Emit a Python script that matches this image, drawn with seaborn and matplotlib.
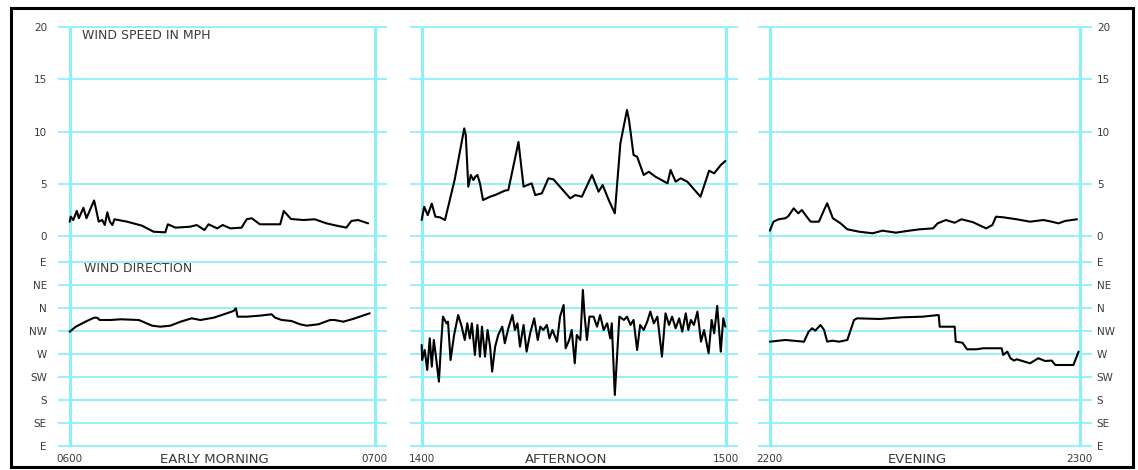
import pandas as pd
import matplotlib.pyplot as plt
import seaborn as sns
from matplotlib.patches import Rectangle

# ---- data (minutes past the hour, mph / compass degrees) ----
morning_speed_min = [0, 0.2, 0.7, 1.4, 1.8, 2.7, 3.3, 4.0, 4.8, 5.3, 5.7, 6.4, 6.9, 7.4, 7.9, 8.4, 8.8,
                     11.3, 14.2, 16.5, 18.8, 19.3, 20.8, 23.7, 25.0, 26.5, 27.3, 29.0, 30.1, 31.6, 33.8,
                     34.8, 35.8, 37.4, 41.4, 42.1, 43.5, 45.9, 48.2, 50.5, 52.5, 54.4, 55.4, 56.7, 58.7]
morning_speed = [1.37, 1.85, 1.53, 2.4, 1.7, 2.7, 1.7, 2.5, 3.4, 2.3, 1.37, 1.53, 1.05, 2.27, 1.37, 1.05, 1.6,
                 1.37, 0.99, 0.41, 0.35, 1.12, 0.8, 0.89, 1.05, 0.57, 1.12, 0.73, 1.05, 0.73, 0.8,
                 1.6, 1.7, 1.12, 1.12, 2.4, 1.63, 1.53, 1.6, 1.21, 0.99, 0.8, 1.44, 1.53, 1.21]

afternoon_speed_min = [0, 0.5, 1.2, 2.0, 2.7, 3.6, 4.6, 6.5, 8.4, 8.7, 9.2, 9.7, 10.2, 10.6, 11.0, 11.5, 12.1,
                       13.5, 14.5, 16.4, 17.1, 19.1, 20.1, 21.7, 22.4, 23.7, 25.0, 26.0, 29.3, 30.3, 31.6,
                       33.6, 34.9, 35.7, 36.9, 38.1, 39.2, 40.5, 40.9, 41.8, 42.5, 43.8, 44.8, 46.1, 48.5,
                       49.1, 50.1, 51.1, 52.4, 55.0, 56.7, 57.7, 59.0, 59.9]
afternoon_speed = [1.53, 2.8, 2.0, 3.1, 1.85, 1.79, 1.53, 5.36, 10.3, 9.67, 4.72, 5.84, 5.36, 5.68, 5.84, 5.04, 3.44,
                   3.76, 3.92, 4.34, 4.4, 9.0, 4.72, 5.04, 3.92, 4.08, 5.52, 5.42, 3.6, 3.92, 3.76,
                   5.84, 4.24, 4.88, 3.44, 2.17, 8.87, 12.06, 11.1, 7.75, 7.59, 5.84, 6.15, 5.68, 5.04,
                   6.32, 5.2, 5.52, 5.2, 3.76, 6.25, 6.0, 6.79, 7.18]

evening_speed_min = [0, 0.7, 1.7, 3.0, 3.6, 4.6, 5.5, 6.2, 6.9, 7.9, 9.5, 10.5, 11.1, 12.2, 13.7, 15.0, 17.3,
                     19.9, 21.8, 24.4, 27.0, 29.0, 31.6, 32.5, 34.1, 35.8, 37.1, 39.3, 41.9, 43.1, 43.8,
                     45.2, 47.8, 50.4, 53.0, 54.6, 55.9, 57.2, 59.5]
evening_speed = [0.51, 1.37, 1.6, 1.7, 1.91, 2.65, 2.17, 2.49, 2.0, 1.37, 1.37, 2.49, 3.13, 1.7, 1.21, 0.64, 0.41,
                 0.26, 0.51, 0.32, 0.51, 0.64, 0.73, 1.21, 1.53, 1.27, 1.6, 1.33, 0.73, 1.05, 1.85,
                 1.79, 1.6, 1.37, 1.53, 1.37, 1.21, 1.44, 1.6]

morning_dir_min = [0, 1.2, 3.1, 4.8, 5.4, 5.9, 8.0, 10.0, 13.6, 16.2, 17.8, 19.8, 21.8, 24.0, 25.7, 28.3,
                   30.9, 32.2, 32.7, 33.0, 34.8, 37.4, 39.7, 40.4, 41.7, 43.6, 45.3, 46.6, 48.9, 51.2,
                   52.1, 53.8, 55.7, 59.0]
morning_dir = [313.6, 323.4, 333.2, 341.0, 341.0, 336.5, 336.5, 337.9, 336.5, 325.4, 323.4, 325.4, 333.2, 339.8,
               336.5, 341.0, 349.6, 354.1, 359.4, 343.0, 343.0, 345.0, 347.7, 341.0, 336.5, 334.6, 328.1,
               325.4, 328.1, 336.5, 336.5, 333.2, 338.5, 349.6]

afternoon_dir_min = [0, 0.1, 0.6, 1.1, 1.6, 2.0, 2.4, 2.9, 3.4, 3.8, 4.2, 4.9, 5.2, 5.7, 6.4, 7.2, 7.9, 8.5,
                     9.0, 9.5, 9.9, 10.5, 11.0, 11.5, 11.9, 12.5, 13.0, 13.5, 13.9, 14.5, 15.1, 15.9, 16.4,
                     17.1, 17.9, 18.4, 18.9, 19.4, 20.1, 20.7, 21.4, 22.2, 22.9, 23.4, 24.0, 24.7, 25.2,
                     25.8, 26.7, 27.3, 28.0, 28.4, 29.1, 29.6, 30.2, 30.6, 31.3, 31.8, 32.1, 32.6, 33.1,
                     33.9, 34.6, 35.2, 35.9, 36.6, 37.2, 37.5, 38.1, 38.5, 39.0, 39.9, 40.5, 41.2, 41.8,
                     42.5, 43.1, 43.8, 44.5, 45.1, 45.8, 46.5, 47.4, 48.1, 48.8, 49.4, 50.1, 50.8, 51.4,
                     52.1, 52.6, 53.1, 53.7, 54.4, 55.1, 55.7, 56.6, 57.2, 57.7, 58.3, 59.0, 59.5, 59.9]
afternoon_dir = [287.7, 258.3, 277.9, 238.8, 300.7, 245.3, 297.4, 258.3, 215.9, 284.4, 343.1, 330.0, 333.3,
                 258.3, 307.2, 346.3, 323.5, 297.4, 330.0, 300.7, 330.0, 268.1, 326.8, 264.8, 323.5, 264.8,
                 317.0, 284.4, 235.5, 284.4, 307.2, 323.5, 291.0, 320.3, 346.3, 317.0, 330.0, 284.4, 326.8,
                 274.6, 310.5, 339.8, 297.4, 323.5, 317.0, 326.8, 300.7, 317.0, 294.2, 343.1, 365.9, 281.1,
                 297.4, 317.0, 251.8, 307.2, 297.4, 395.2, 349.6, 297.4, 343.1, 343.1, 323.5, 346.3, 317.0,
                 330.0, 300.7, 330.0, 189.9, 258.3, 343.1, 336.6, 343.1, 326.8, 336.6, 277.9, 326.8, 317.0,
                 333.3, 352.9, 330.0, 343.1, 264.8, 349.6, 326.8, 343.1, 320.3, 339.8, 313.7, 349.6, 317.0,
                 336.6, 326.8, 352.9, 294.2, 317.0, 271.4, 336.6, 310.5, 364.0, 274.6, 339.8, 323.5]

evening_dir_min = [0, 3.0, 6.6, 7.5, 8.2, 8.8, 9.8, 10.5, 11.1, 12.1, 13.4, 15.0, 16.3, 16.9, 21.2, 25.7,
                   29.6, 32.7, 32.9, 35.8, 36.0, 37.3, 38.2, 40.0, 41.3, 44.9, 45.2, 46.0, 46.6, 47.3,
                   47.8, 50.4, 52.0, 53.3, 54.6, 55.3, 58.8, 59.8]
evening_dir = [294.1, 297.4, 294.1, 313.6, 320.3, 315.6, 326.7, 317.0, 294.1, 296.0, 294.1, 297.4, 336.5, 339.8,
               338.5, 341.8, 343.0, 346.3, 323.4, 323.4, 294.1, 292.1, 279.2, 279.2, 281.2, 281.2, 268.2,
               274.7, 261.7, 257.1, 259.7, 251.8, 261.7, 256.3, 257.1, 248.5, 248.5, 274.7]

periods = ['EARLY MORNING', 'AFTERNOON', 'EVENING']
hour_labels = [['0600', '0700'], ['1400', '1500'], ['2200', '2300']]
speed_ticks = [0, 5, 10, 15, 20]
dir_ticks = [90, 135, 180, 225, 270, 315, 360, 405, 450]
dir_labels = ['E', 'SE', 'S', 'SW', 'W', 'NW', 'N', 'NE', 'E']

speeds = [(morning_speed_min, morning_speed), (afternoon_speed_min, afternoon_speed),
          (evening_speed_min, evening_speed)]
dirs = [(morning_dir_min, morning_dir), (afternoon_dir_min, afternoon_dir),
        (evening_dir_min, evening_dir)]

sns.set_style('white')
plt.rcParams['font.family'] = ['DejaVu Sans']

CYAN = '#8cf0fb'
TXT = '#3a3a3a'
W, H = 1138, 470
fig = plt.figure(figsize=(W / 100, H / 100), dpi=100)

panel_x = [(58, 387), (410, 738), (758, 1092)]   # pixel extents of each column
spd_lim = (-1.244, 20.25)
dir_lim = (86.1, 475.4)

for i in range(3):
    x0, x1 = panel_x[i]
    ax_s = fig.add_axes([x0 / W, 1 - 249 / H, (x1 - x0) / W, (249 - 24.4) / H])
    ax_d = fig.add_axes([x0 / W, 1 - 448 / H, (x1 - x0) / W, (448 - 249) / H])

    df_s = pd.DataFrame({'minute': speeds[i][0], 'mph': speeds[i][1]})
    df_d = pd.DataFrame({'minute': dirs[i][0], 'deg': dirs[i][1]})

    for ax in (ax_s, ax_d):
        ax.set_xlim(-2.3, 62.4)
        for s in ax.spines.values():
            s.set_visible(False)
        ax.grid(axis='y', color=CYAN, lw=1.3)
        ax.grid(axis='x', visible=False)
        ax.tick_params(length=0, colors=TXT, labelsize=7.5)
        ax.set_facecolor('none')

    ax_s.vlines([0, 60], spd_lim[0], 20, color=CYAN, lw=2.2, zorder=1)
    ax_d.vlines([0, 60], 90, dir_lim[1], color=CYAN, lw=2.2, zorder=1)

    sns.lineplot(data=df_s, x='minute', y='mph', ax=ax_s, color='black', lw=1.5, sort=False, zorder=3)
    sns.lineplot(data=df_d, x='minute', y='deg', ax=ax_d, color='black', lw=1.5, sort=False, zorder=3)

    ax_s.set_ylim(*spd_lim)
    ax_d.set_ylim(*dir_lim)
    ax_s.set_yticks(speed_ticks)
    ax_d.set_yticks(dir_ticks)
    ax_d.set_yticklabels(dir_labels)
    ax_s.set_xticks([])
    ax_d.set_xticks([0, 60])
    ax_d.set_xticklabels(hour_labels[i])
    ax_d.tick_params(axis='x', pad=4)
    for ax in (ax_s, ax_d):
        ax.set_xlabel('')
        ax.set_ylabel('')
        if i == 0:
            ax.tick_params(axis='y', left=True, labelleft=True, right=False, labelright=False, pad=8)
        elif i == 2:
            ax.tick_params(axis='y', left=False, labelleft=False, right=True, labelright=True, pad=3.5)
        else:
            ax.tick_params(axis='y', labelleft=False, labelright=False)

    ax_d.annotate(periods[i], xy=(28.5, 0), xycoords=('data', 'axes fraction'),
                  xytext=(0, -3.5), textcoords='offset points', ha='center', va='top',
                  fontsize=9.5, color=TXT)

    if i == 0:
        ax_s.text(2.5, 19.2, 'WIND SPEED IN MPH', fontsize=9, color=TXT, va='center', ha='left')
        ax_d.text(2.9, 436.3, 'WIND DIRECTION', fontsize=9, color=TXT, va='center', ha='left')

fig.add_artist(Rectangle((11 / W, 1 - 467 / H), (1133 - 11) / W, (467 - 8) / H,
                         transform=fig.transFigure, fill=False, lw=2.2, ec='black'))

fig.savefig('out.png', dpi=100)
